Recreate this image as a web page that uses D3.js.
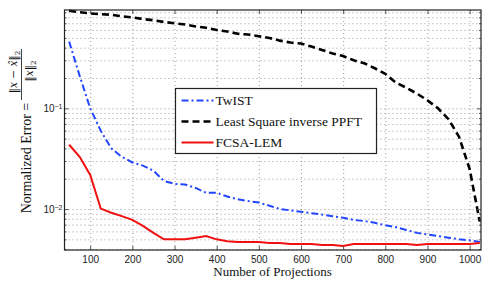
<!DOCTYPE html>
<html>
<head>
<meta charset="utf-8">
<script src="https://cdn.jsdelivr.net/npm/d3@7"></script>
<style>
  body { margin: 0; background: #fff; }
  svg { display: block; }
</style>
</head>
<body>
<div id="chart"></div>
<script>
// number of projections (x) shared by all three curves
const projections = [50, 75, 100, 125, 150, 175, 200, 225, 250, 275, 300, 325, 350, 375, 400, 425, 450, 475, 500, 525,
  550, 575, 600, 625, 650, 675, 700, 725, 750, 775, 800, 825, 850, 875, 900, 925, 950, 975, 1000, 1024];

// normalized error
const twist = [0.46, 0.21, 0.10, 0.060, 0.040, 0.033, 0.029, 0.027, 0.024, 0.019, 0.0178, 0.0175, 0.0162, 0.0145, 0.0145,
  0.0133, 0.0125, 0.0120, 0.0116, 0.0108, 0.0100, 0.0097, 0.0094, 0.0091, 0.0088, 0.0085, 0.0082, 0.0078, 0.0076, 0.0073,
  0.0069, 0.0066, 0.0062, 0.0058, 0.0056, 0.0054, 0.0052, 0.0050, 0.0049, 0.0047];
const leastSquare = [0.93, 0.90, 0.877, 0.86, 0.85, 0.82, 0.80, 0.77, 0.75, 0.72, 0.70, 0.68, 0.65, 0.63, 0.60, 0.58,
  0.55, 0.54, 0.52, 0.50, 0.47, 0.45, 0.44, 0.41, 0.38, 0.35, 0.33, 0.30, 0.28, 0.25, 0.22, 0.18, 0.16, 0.14, 0.12, 0.10,
  0.078, 0.052, 0.025, 0.0075];
const fcsa = [0.0435, 0.033, 0.0218, 0.0101, 0.0092, 0.0085, 0.0078, 0.0068, 0.0058, 0.0050, 0.0050, 0.0050, 0.0052,
  0.0054, 0.0050, 0.0048, 0.0047, 0.0047, 0.0047, 0.0046, 0.0046, 0.0045, 0.0045, 0.0045, 0.0044, 0.0044, 0.0043, 0.0045,
  0.0045, 0.0045, 0.0045, 0.0045, 0.0045, 0.0044, 0.0045, 0.0045, 0.0045, 0.0045, 0.0045, 0.0046];

const seriesNames = ["TwIST", "Least Square inverse PPFT", "FCSA-LEM"];

// tick values
const xTicks = [100, 200, 300, 400, 500, 600, 700, 800, 900, 1000];
const yMajor = [0.01, 0.1];
const yMinor = [0.004, 0.005, 0.006, 0.007, 0.008, 0.009, 0.02, 0.03, 0.04, 0.05, 0.06, 0.07, 0.08, 0.09,
  0.2, 0.3, 0.4, 0.5, 0.6, 0.7, 0.8, 0.9];

const settings = {
  width: 491,
  height: 282,
  left: 64.5,
  right: 481,
  top: 10,
  bottom: 250,
  serif: "'Liberation Serif', 'DejaVu Serif', serif",
  mathFont: "'DejaVu Serif', serif",
  sans: "'Liberation Sans', Arial, sans-serif",
  gridColor: "#9a9a9a",
  axisColor: "#222",
};

const styles = [
  { color: "#2246ff", width: 2, dash: "7,3,2,3" },
  { color: "#000", width: 2.6, dash: "7,4" },
  { color: "#f01010", width: 2, dash: null },
];

function drawChart() {
  const svg = d3.select("#chart").append("svg")
    .attr("width", settings.width)
    .attr("height", settings.height);

  const x = d3.scaleLinear().domain([39, 1027]).range([settings.left, settings.right]);
  const y = d3.scaleLog().domain([0.00392, 0.947]).range([settings.bottom, settings.top]);
  const plotW = settings.right - settings.left;
  const plotH = settings.bottom - settings.top;

  // dotted grid
  const gridX = svg.append("g")
    .attr("transform", `translate(0,${settings.bottom})`)
    .call(d3.axisBottom(x).tickValues(xTicks).tickSize(-plotH).tickFormat(""));
  const gridY = svg.append("g")
    .attr("transform", `translate(${settings.left},0)`)
    .call(d3.axisLeft(y).tickValues(yMajor.concat(yMinor)).tickSize(-plotW).tickFormat(""));
  [gridX, gridY].forEach((g) => {
    g.select(".domain").remove();
    g.selectAll("line")
      .attr("class", "grid")
      .attr("stroke", settings.gridColor)
      .attr("stroke-width", 1)
      .attr("stroke-dasharray", "1,3");
  });

  // curves
  const line = d3.line()
    .x((d) => x(d[0]))
    .y((d) => y(d[1]));
  [twist, leastSquare, fcsa].forEach((vals, i) => {
    svg.append("path")
      .datum(projections.map((p, j) => [p, vals[j]]))
      .attr("d", line)
      .attr("fill", "none")
      .attr("stroke", styles[i].color)
      .attr("stroke-width", styles[i].width)
      .attr("stroke-dasharray", styles[i].dash);
  });

  // axes with inward ticks on all four sides
  const bottomAxis = svg.append("g")
    .attr("transform", `translate(0,${settings.bottom})`)
    .call(d3.axisBottom(x).tickValues(xTicks).tickSize(-4).tickPadding(6).tickFormat(d3.format("d")));
  svg.append("g")
    .attr("transform", `translate(0,${settings.top})`)
    .call(d3.axisTop(x).tickValues(xTicks).tickSize(-4).tickFormat(""));
  const leftAxis = svg.append("g")
    .attr("transform", `translate(${settings.left},0)`)
    .call(d3.axisLeft(y).tickValues(yMajor).tickSize(-4).tickFormat(""));
  svg.append("g")
    .attr("transform", `translate(${settings.left},0)`)
    .call(d3.axisLeft(y).tickValues(yMinor).tickSize(-2).tickFormat(""));
  svg.append("g")
    .attr("transform", `translate(${settings.right},0)`)
    .call(d3.axisRight(y).tickValues(yMajor).tickSize(-4).tickFormat(""));
  svg.append("g")
    .attr("transform", `translate(${settings.right},0)`)
    .call(d3.axisRight(y).tickValues(yMinor).tickSize(-2).tickFormat(""));

  svg.selectAll(".domain").remove();
  svg.selectAll(".tick line:not(.grid)").attr("stroke", "#555");

  bottomAxis.selectAll("text")
    .attr("fill", "#222")
    .style("font-family", settings.sans)
    .style("font-size", "10px");

  // y tick labels as 10 with superscript exponent
  leftAxis.selectAll(".tick").each(function (d) {
    const t = d3.select(this).append("text")
      .attr("x", -2)
      .attr("dy", "0.35em")
      .attr("text-anchor", "end")
      .attr("fill", "#222")
      .style("font-family", settings.sans)
      .style("font-size", "10px");
    t.append("tspan").text("10");
    t.append("tspan")
      .attr("dy", "-0.45em")
      .style("font-size", "7px")
      .text("\u2212" + Math.round(-Math.log10(d)));
  });

  // plot box
  svg.append("rect")
    .attr("x", settings.left)
    .attr("y", settings.top)
    .attr("width", plotW)
    .attr("height", plotH)
    .attr("fill", "none")
    .attr("stroke", settings.axisColor)
    .attr("stroke-width", 1.2);

  // x axis title
  svg.append("text")
    .attr("x", 272.5)
    .attr("y", 276)
    .attr("text-anchor", "middle")
    .style("font-family", settings.serif)
    .style("font-size", "13px")
    .attr("fill", "#111")
    .text("Number of Projections");

  // y axis title: "Normalized Error =" followed by a fraction
  const yTitle = svg.append("g").attr("transform", "rotate(-90)")
    .attr("fill", "#111");
  yTitle.append("text")
    .attr("x", -158)
    .attr("y", 31)
    .attr("text-anchor", "middle")
    .style("font-family", settings.serif)
    .style("font-size", "14px")
    .text("Normalized Error =");
  const num = yTitle.append("text")
    .attr("x", -72)
    .attr("y", 17)
    .attr("text-anchor", "middle")
    .style("font-family", settings.mathFont)
    .style("font-size", "10.5px");
  num.append("tspan").text("\u2016");
  num.append("tspan").style("font-style", "italic").text("x");
  num.append("tspan").text(" \u2212 ");
  num.append("tspan").style("font-style", "italic").text("x\u0302");
  num.append("tspan").text("\u2016");
  num.append("tspan").attr("dy", 3).style("font-size", "7px").text("2");
  yTitle.append("line")
    .attr("x1", -100).attr("x2", -49)
    .attr("y1", 21.5).attr("y2", 21.5)
    .attr("stroke", "#111").attr("stroke-width", 0.8);
  const den = yTitle.append("text")
    .attr("x", -71)
    .attr("y", 33)
    .attr("text-anchor", "middle")
    .style("font-family", settings.mathFont)
    .style("font-size", "10.5px");
  den.append("tspan").text("\u2016");
  den.append("tspan").style("font-style", "italic").text("x");
  den.append("tspan").text("\u2016");
  den.append("tspan").attr("dy", 3).style("font-size", "7px").text("2");

  // legend
  const legend = svg.append("g").attr("transform", "translate(175.5,88.5)");
  legend.append("rect")
    .attr("width", 201)
    .attr("height", 65)
    .attr("fill", "#fff")
    .attr("stroke", settings.axisColor)
    .attr("stroke-width", 1.2);
  seriesNames.forEach((name, i) => {
    const ly = 12 + i * 21;
    legend.append("line")
      .attr("x1", 6).attr("x2", 38)
      .attr("y1", ly).attr("y2", ly)
      .attr("stroke", styles[i].color)
      .attr("stroke-width", styles[i].width)
      .attr("stroke-dasharray", styles[i].dash);
    legend.append("text")
      .attr("x", 40)
      .attr("y", ly + 4.5)
      .style("font-family", settings.serif)
      .style("font-size", "13.5px")
      .attr("fill", "#111")
      .text(name);
  });
}

drawChart();
</script>
</body>
</html>
